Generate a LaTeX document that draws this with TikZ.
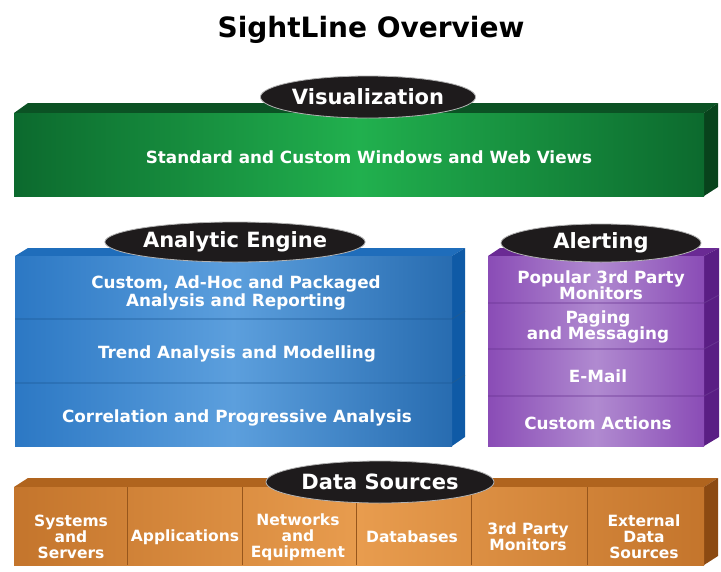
\documentclass[tikz,border=0pt]{standalone}
\usepackage{fontspec}
\setmainfont{DejaVu Sans}
\usepackage{tikz}
\usetikzlibrary{shapes.geometric}

\definecolor{gdark}{HTML}{0C6A2E}
\definecolor{glight}{HTML}{21B04E}
\definecolor{gtop}{HTML}{0B5224}
\definecolor{gside}{HTML}{08431C}
\definecolor{bdark}{HTML}{2C78C4}
\definecolor{blight}{HTML}{5C9FDD}
\definecolor{btop}{HTML}{1F6DBB}
\definecolor{bside}{HTML}{0F5AA6}
\definecolor{bline}{HTML}{1D5A96}
\definecolor{pdark}{HTML}{8A4CB6}
\definecolor{plight}{HTML}{B08AD0}
\definecolor{ptop}{HTML}{6A2A94}
\definecolor{pside}{HTML}{5A1E84}
\definecolor{pline}{HTML}{673290}
\definecolor{odark}{HTML}{C4752C}
\definecolor{olight}{HTML}{E89C4E}
\definecolor{otop}{HTML}{B0641E}
\definecolor{oside}{HTML}{8C4A12}
\definecolor{oline}{HTML}{97561C}
\definecolor{capfill}{HTML}{1E1B1C}

\begin{document}
\begin{tikzpicture}[x=1pt, y=-1pt,
    every node/.style={text=white, align=center, font=\fontsize{16.8}{18}\selectfont\bfseries},
    capsule/.style={ellipse, fill=capfill, draw=gray!60, line width=0.8pt, inner sep=0pt, font=\fontsize{21}{21}\selectfont\bfseries},
    small/.style={font=\fontsize{15.5}{16}\selectfont\bfseries},
    rule/.style={line width=0.9pt}]
    \useasboundingbox (0,0) rectangle (721,571);
    \fill[white] (0,0) rectangle (721,571);

    \node (title) at (371,30) [text=black, font=\fontsize{28}{28}\selectfont\bfseries] {SightLine Overview};

    % visualization
    \fill[gtop] (14,113) -- (28,103) -- (718,103) -- (704,113) -- cycle;
    \fill[gside] (704,113) -- (718,103) -- (718,187) -- (704,196) -- cycle;
    \shade[left color=gdark, right color=gdark, middle color=glight] (14,113) rectangle (704,196);
    \node (vis_a) at (369,157) {Standard and Custom Windows and Web Views};
    \node (vis) at (368,97) [capsule, minimum width=190pt, minimum height=42pt] {Visualization};

    % analytic engine
    \fill[btop] (15,256) -- (28,248) -- (465,248) -- (452,256) -- cycle;
    \fill[bside] (452,256) -- (465,248) -- (465,437) -- (452,446) -- cycle;
    \shade[left color=bdark, right color=bdark!90!black, middle color=blight] (15,256) rectangle (452,446);
    \foreach \y in {319,383}
        \draw[rule, bline] (15,\y) -- (452,\y) -- (465,\y-8);
    \node (ae_a) at (236,293) {Custom, Ad-Hoc and Packaged\\Analysis and Reporting};
    \node (ae_b) at (237,354) {Trend Analysis and Modelling};
    \node (ae_c) at (237,418) {Correlation and Progressive Analysis};
    \node (ae) at (235,242) [capsule, minimum width=234pt, minimum height=40pt] {Analytic Engine};

    % alerting
    \fill[ptop] (488,256) -- (500,248) -- (719,248) -- (704,256) -- cycle;
    \fill[pside] (704,256) -- (719,248) -- (719,437) -- (704,446) -- cycle;
    \shade[left color=pdark, right color=pdark, middle color=plight] (488,256) rectangle (704,446);
    \foreach \y in {303,349,396}
        \draw[rule, pline] (488,\y) -- (704,\y) -- (719,\y-8);
    \node (al_a) at (601,285) [font=\fontsize{16.8}{16.5}\selectfont\bfseries] {Popular 3rd Party\\Monitors};
    \node (al_b) at (598,327) [font=\fontsize{16.8}{16.5}\selectfont\bfseries] {Paging\\and Messaging};
    \node (al_c) at (598,376) {E-Mail};
    \node (al_d) at (598,423) {Custom Actions};
    \node (al) at (601,243) [capsule, minimum width=200pt, minimum height=38pt] {Alerting};

    % data sources
    \fill[otop] (14,487) -- (28,478) -- (718,478) -- (704,487) -- cycle;
    \fill[oside] (704,487) -- (718,478) -- (718,556) -- (704,565) -- cycle;
    \shade[left color=odark, right color=odark, middle color=olight] (14,487) rectangle (704,565);
    \foreach \x in {127,242,356,471,587}
        \draw[rule, oline] (\x,487) -- (\x,565);
    \node (ds_a) at (71,537) [small] {Systems\\and\\Servers};
    \node (ds_b) at (185,537) [small] {Applications};
    \node (ds_c) at (298,537) [small] {Networks\\and\\Equipment};
    \node (ds_d) at (412,537) [small] {Databases};
    \node (ds_e) at (528,537) [small] {3rd Party\\Monitors};
    \node (ds_f) at (644,537) [small] {External\\Data\\Sources};
    \node (ds) at (380,482) [capsule, minimum width=228pt, minimum height=42pt] {Data Sources};
\end{tikzpicture}
\end{document}
